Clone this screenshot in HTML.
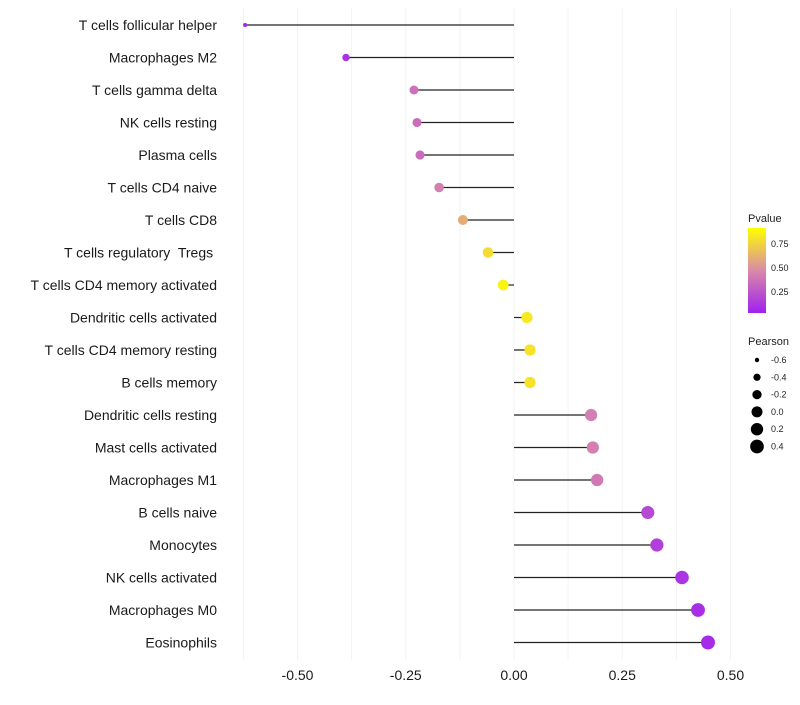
<!DOCTYPE html>
<html><head><meta charset="utf-8"><style>
body{margin:0;background:#fff;font-family:"Liberation Sans",sans-serif}
text{white-space:pre}
</style></head><body>
<svg id="chart" width="800" height="700" xmlns="http://www.w3.org/2000/svg" font-family="Liberation Sans, sans-serif" xml:space="preserve">
<defs><linearGradient id="pg" x1="0" y1="1" x2="0" y2="0">
<stop offset="0" stop-color="#a020f0"/><stop offset="0.5" stop-color="#d98aa8"/><stop offset="1" stop-color="#ffff00"/></linearGradient></defs>
<g id="grid"></g>
<g id="marks"></g>
<g id="labels"></g>
<g id="xt"></g>
<g>
<text x="748" y="222" font-size="11" fill="#222">Pvalue</text>
<rect x="748" y="228" width="18" height="85" fill="url(#pg)"/>
<text x="771" y="247" font-size="9" fill="#222">0.75</text>
<text x="771" y="271" font-size="9" fill="#222">0.50</text>
<text x="771" y="295" font-size="9" fill="#222">0.25</text>
</g>
<g id="sleg">
<text x="748" y="345" font-size="11" fill="#222">Pearson</text>
</g>
</svg>
<script>
const categories=["T cells follicular helper","Macrophages M2","T cells gamma delta","NK cells resting","Plasma cells","T cells CD4 naive","T cells CD8","T cells regulatory  Tregs ","T cells CD4 memory activated","Dendritic cells activated","T cells CD4 memory resting","B cells memory","Dendritic cells resting","Mast cells activated","Macrophages M1","B cells naive","Monocytes","NK cells activated","Macrophages M0","Eosinophils"];
const pearson=[-0.621,-0.388,-0.231,-0.224,-0.217,-0.173,-0.118,-0.060,-0.025,0.030,0.037,0.037,0.178,0.182,0.192,0.309,0.330,0.388,0.425,0.448];
const pvalue=[0.02,0.10,0.38,0.37,0.37,0.45,0.65,0.85,0.95,0.90,0.88,0.88,0.45,0.45,0.42,0.20,0.15,0.10,0.07,0.05];
const xTicks=[-0.5,-0.25,0,0.25,0.5];
const xTickLabels=["-0.50","-0.25","0.00","0.25","0.50"];
const legendVals=[-0.6,-0.4,-0.2,0.0,0.2,0.4];
const legendLabels=["-0.6","-0.4","-0.2","0.0","0.2","0.4"];
const NS="http://www.w3.org/2000/svg";
const X=v=>514+v*433;
const Y=i=>25+i*32.5;
const R=p=>Math.sqrt(Math.max(3,30+42*p));
function lerp(a,b,t){return a.map((v,i)=>Math.round(v+(b[i]-v)*t));}
function col(p){const s=[[160,32,240],[217,138,168],[255,255,0]];let c=p<0.5?lerp(s[0],s[1],p/0.5):lerp(s[1],s[2],(p-0.5)/0.5);return `rgb(${c})`;}
function mk(t,a,parent){const e=document.createElementNS(NS,t);for(const k in a)e.setAttribute(k,a[k]);document.getElementById(parent).appendChild(e);return e;}
[-0.625,-0.5,-0.375,-0.25,-0.125,0,0.125,0.25,0.375,0.5].forEach(v=>{
const l=mk('line',{x1:X(v),x2:X(v),y1:8,y2:660,stroke:'#f3f3f3','stroke-width':1},'grid');

});
categories.forEach((c,i)=>{
const ln=mk('line',{x1:X(0),x2:X(pearson[i]),y1:Y(i),y2:Y(i),stroke:'#222','stroke-width':1.2},'marks');


const d=mk('circle',{cx:X(pearson[i]),cy:Y(i),r:R(pearson[i]),fill:col(pvalue[i])},'marks');


const t=mk('text',{x:217,y:Y(i)+5,'text-anchor':'end','font-size':14,fill:'#1a1a1a'},'labels');
t.textContent=c;

});
xTicks.forEach((v,i)=>{
const t=mk('text',{x:X(v),y:680,'text-anchor':'middle','font-size':14,fill:'#1a1a1a'},'xt');
t.textContent=xTickLabels[i];

});
legendVals.forEach((v,i)=>{
const y=360+i*17.3;
const c=mk('circle',{cx:757,cy:y,r:R(v),fill:'#000'},'sleg');


const t=mk('text',{x:771,y:y+3,'font-size':9,fill:'#222'},'sleg');
t.textContent=legendLabels[i];

});
</script>
</body></html>
